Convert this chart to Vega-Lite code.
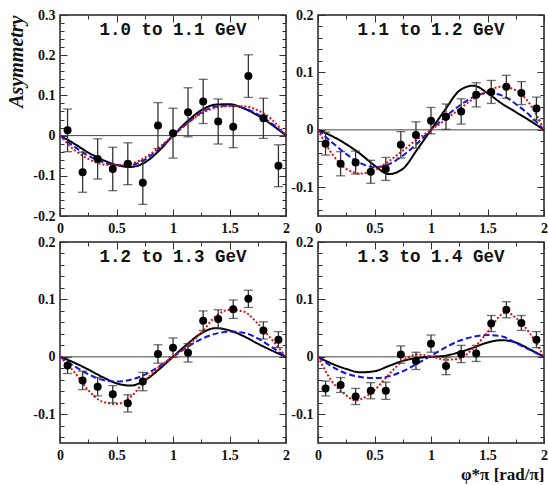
{
  "$schema": "https://vega.github.io/schema/vega-lite/v6.json",
  "padding": {"left": 5, "top": 7, "right": 0, "bottom": 2},
  "datasets": {
    "pts": [
      {"p":1,"x":0.067,"y":0.013,"e":0.053},{"p":1,"x":0.2,"y":-0.091,"e":0.05},{"p":1,"x":0.333,"y":-0.058,"e":0.05},{"p":1,"x":0.467,"y":-0.083,"e":0.054},{"p":1,"x":0.6,"y":-0.07,"e":0.052},{"p":1,"x":0.733,"y":-0.117,"e":0.054},{"p":1,"x":0.867,"y":0.025,"e":0.057},{"p":1,"x":1.0,"y":0.006,"e":0.062},{"p":1,"x":1.133,"y":0.058,"e":0.061},{"p":1,"x":1.267,"y":0.085,"e":0.055},{"p":1,"x":1.4,"y":0.035,"e":0.056},{"p":1,"x":1.533,"y":0.022,"e":0.052},{"p":1,"x":1.667,"y":0.148,"e":0.053},{"p":1,"x":1.8,"y":0.043,"e":0.05},{"p":1,"x":1.933,"y":-0.075,"e":0.052},
      {"p":2,"x":0.067,"y":-0.024,"e":0.02},{"p":2,"x":0.2,"y":-0.059,"e":0.021},{"p":2,"x":0.333,"y":-0.057,"e":0.02},{"p":2,"x":0.467,"y":-0.073,"e":0.02},{"p":2,"x":0.6,"y":-0.068,"e":0.02},{"p":2,"x":0.733,"y":-0.026,"e":0.023},{"p":2,"x":0.867,"y":-0.009,"e":0.023},{"p":2,"x":1.0,"y":0.016,"e":0.023},{"p":2,"x":1.133,"y":0.023,"e":0.022},{"p":2,"x":1.267,"y":0.032,"e":0.022},{"p":2,"x":1.4,"y":0.061,"e":0.021},{"p":2,"x":1.533,"y":0.066,"e":0.02},{"p":2,"x":1.667,"y":0.075,"e":0.02},{"p":2,"x":1.8,"y":0.064,"e":0.02},{"p":2,"x":1.933,"y":0.037,"e":0.02},
      {"p":3,"x":0.067,"y":-0.015,"e":0.014},{"p":3,"x":0.2,"y":-0.041,"e":0.016},{"p":3,"x":0.333,"y":-0.052,"e":0.016},{"p":3,"x":0.467,"y":-0.065,"e":0.015},{"p":3,"x":0.6,"y":-0.081,"e":0.015},{"p":3,"x":0.733,"y":-0.043,"e":0.016},{"p":3,"x":0.867,"y":0.005,"e":0.016},{"p":3,"x":1.0,"y":0.016,"e":0.017},{"p":3,"x":1.133,"y":0.007,"e":0.016},{"p":3,"x":1.267,"y":0.063,"e":0.017},{"p":3,"x":1.4,"y":0.066,"e":0.016},{"p":3,"x":1.533,"y":0.083,"e":0.016},{"p":3,"x":1.667,"y":0.101,"e":0.015},{"p":3,"x":1.8,"y":0.046,"e":0.015},{"p":3,"x":1.933,"y":0.03,"e":0.014},
      {"p":4,"x":0.067,"y":-0.055,"e":0.013},{"p":4,"x":0.2,"y":-0.049,"e":0.013},{"p":4,"x":0.333,"y":-0.069,"e":0.014},{"p":4,"x":0.467,"y":-0.059,"e":0.014},{"p":4,"x":0.6,"y":-0.059,"e":0.015},{"p":4,"x":0.733,"y":0.004,"e":0.015},{"p":4,"x":0.867,"y":-0.007,"e":0.015},{"p":4,"x":1.0,"y":0.023,"e":0.015},{"p":4,"x":1.133,"y":-0.016,"e":0.015},{"p":4,"x":1.267,"y":0.005,"e":0.015},{"p":4,"x":1.4,"y":0.006,"e":0.014},{"p":4,"x":1.533,"y":0.058,"e":0.014},{"p":4,"x":1.667,"y":0.082,"e":0.014},{"p":4,"x":1.8,"y":0.059,"e":0.013},{"p":4,"x":1.933,"y":0.03,"e":0.014}
    ],
    "crv": [
      {"p":1,"s":"A","x":0,"y":0},{"p":1,"s":"A","x":0.125,"y":-0.02},{"p":1,"s":"A","x":0.25,"y":-0.042},{"p":1,"s":"A","x":0.375,"y":-0.06},{"p":1,"s":"A","x":0.5,"y":-0.073},{"p":1,"s":"A","x":0.625,"y":-0.078},{"p":1,"s":"A","x":0.75,"y":-0.067},{"p":1,"s":"A","x":0.875,"y":-0.038},{"p":1,"s":"A","x":1,"y":0},{"p":1,"s":"A","x":1.125,"y":0.035},{"p":1,"s":"A","x":1.25,"y":0.063},{"p":1,"s":"A","x":1.375,"y":0.077},{"p":1,"s":"A","x":1.5,"y":0.078},{"p":1,"s":"A","x":1.625,"y":0.068},{"p":1,"s":"A","x":1.75,"y":0.05},{"p":1,"s":"A","x":1.875,"y":0.027},{"p":1,"s":"A","x":2,"y":0},
      {"p":1,"s":"B","x":0,"y":0},{"p":1,"s":"B","x":0.125,"y":-0.027},{"p":1,"s":"B","x":0.25,"y":-0.05},{"p":1,"s":"B","x":0.375,"y":-0.065},{"p":1,"s":"B","x":0.5,"y":-0.073},{"p":1,"s":"B","x":0.625,"y":-0.073},{"p":1,"s":"B","x":0.75,"y":-0.06},{"p":1,"s":"B","x":0.875,"y":-0.033},{"p":1,"s":"B","x":1,"y":0},{"p":1,"s":"B","x":1.125,"y":0.03},{"p":1,"s":"B","x":1.25,"y":0.057},{"p":1,"s":"B","x":1.375,"y":0.072},{"p":1,"s":"B","x":1.5,"y":0.075},{"p":1,"s":"B","x":1.625,"y":0.069},{"p":1,"s":"B","x":1.75,"y":0.053},{"p":1,"s":"B","x":1.875,"y":0.03},{"p":1,"s":"B","x":2,"y":0},
      {"p":1,"s":"C","x":0,"y":0},{"p":1,"s":"C","x":0.125,"y":-0.035},{"p":1,"s":"C","x":0.25,"y":-0.058},{"p":1,"s":"C","x":0.375,"y":-0.071},{"p":1,"s":"C","x":0.5,"y":-0.074},{"p":1,"s":"C","x":0.625,"y":-0.07},{"p":1,"s":"C","x":0.75,"y":-0.055},{"p":1,"s":"C","x":0.875,"y":-0.03},{"p":1,"s":"C","x":1,"y":0},{"p":1,"s":"C","x":1.125,"y":0.03},{"p":1,"s":"C","x":1.25,"y":0.055},{"p":1,"s":"C","x":1.375,"y":0.069},{"p":1,"s":"C","x":1.5,"y":0.073},{"p":1,"s":"C","x":1.625,"y":0.073},{"p":1,"s":"C","x":1.75,"y":0.063},{"p":1,"s":"C","x":1.875,"y":0.04},{"p":1,"s":"C","x":2,"y":0},
      {"p":2,"s":"A","x":0,"y":0},{"p":2,"s":"A","x":0.125,"y":-0.011},{"p":2,"s":"A","x":0.25,"y":-0.025},{"p":2,"s":"A","x":0.375,"y":-0.042},{"p":2,"s":"A","x":0.5,"y":-0.062},{"p":2,"s":"A","x":0.625,"y":-0.077},{"p":2,"s":"A","x":0.75,"y":-0.068},{"p":2,"s":"A","x":0.875,"y":-0.035},{"p":2,"s":"A","x":1,"y":0},{"p":2,"s":"A","x":1.125,"y":0.035},{"p":2,"s":"A","x":1.25,"y":0.068},{"p":2,"s":"A","x":1.375,"y":0.077},{"p":2,"s":"A","x":1.5,"y":0.064},{"p":2,"s":"A","x":1.625,"y":0.046},{"p":2,"s":"A","x":1.75,"y":0.031},{"p":2,"s":"A","x":1.875,"y":0.016},{"p":2,"s":"A","x":2,"y":0},
      {"p":2,"s":"B","x":0,"y":0},{"p":2,"s":"B","x":0.125,"y":-0.022},{"p":2,"s":"B","x":0.25,"y":-0.042},{"p":2,"s":"B","x":0.375,"y":-0.058},{"p":2,"s":"B","x":0.5,"y":-0.065},{"p":2,"s":"B","x":0.625,"y":-0.06},{"p":2,"s":"B","x":0.75,"y":-0.045},{"p":2,"s":"B","x":0.875,"y":-0.024},{"p":2,"s":"B","x":1,"y":0},{"p":2,"s":"B","x":1.125,"y":0.022},{"p":2,"s":"B","x":1.25,"y":0.042},{"p":2,"s":"B","x":1.375,"y":0.057},{"p":2,"s":"B","x":1.5,"y":0.064},{"p":2,"s":"B","x":1.625,"y":0.06},{"p":2,"s":"B","x":1.75,"y":0.045},{"p":2,"s":"B","x":1.875,"y":0.025},{"p":2,"s":"B","x":2,"y":0},
      {"p":2,"s":"C","x":0,"y":0},{"p":2,"s":"C","x":0.125,"y":-0.042},{"p":2,"s":"C","x":0.25,"y":-0.068},{"p":2,"s":"C","x":0.375,"y":-0.076},{"p":2,"s":"C","x":0.5,"y":-0.07},{"p":2,"s":"C","x":0.625,"y":-0.055},{"p":2,"s":"C","x":0.75,"y":-0.036},{"p":2,"s":"C","x":0.875,"y":-0.017},{"p":2,"s":"C","x":1,"y":0},{"p":2,"s":"C","x":1.125,"y":0.017},{"p":2,"s":"C","x":1.25,"y":0.036},{"p":2,"s":"C","x":1.375,"y":0.054},{"p":2,"s":"C","x":1.5,"y":0.068},{"p":2,"s":"C","x":1.625,"y":0.075},{"p":2,"s":"C","x":1.75,"y":0.069},{"p":2,"s":"C","x":1.875,"y":0.045},{"p":2,"s":"C","x":2,"y":0},
      {"p":3,"s":"A","x":0,"y":0},{"p":3,"s":"A","x":0.125,"y":-0.01},{"p":3,"s":"A","x":0.25,"y":-0.022},{"p":3,"s":"A","x":0.375,"y":-0.035},{"p":3,"s":"A","x":0.5,"y":-0.046},{"p":3,"s":"A","x":0.625,"y":-0.05},{"p":3,"s":"A","x":0.75,"y":-0.041},{"p":3,"s":"A","x":0.875,"y":-0.022},{"p":3,"s":"A","x":1,"y":0},{"p":3,"s":"A","x":1.125,"y":0.022},{"p":3,"s":"A","x":1.25,"y":0.041},{"p":3,"s":"A","x":1.375,"y":0.05},{"p":3,"s":"A","x":1.5,"y":0.046},{"p":3,"s":"A","x":1.625,"y":0.036},{"p":3,"s":"A","x":1.75,"y":0.023},{"p":3,"s":"A","x":1.875,"y":0.011},{"p":3,"s":"A","x":2,"y":0},
      {"p":3,"s":"B","x":0,"y":0},{"p":3,"s":"B","x":0.125,"y":-0.016},{"p":3,"s":"B","x":0.25,"y":-0.03},{"p":3,"s":"B","x":0.375,"y":-0.04},{"p":3,"s":"B","x":0.5,"y":-0.043},{"p":3,"s":"B","x":0.625,"y":-0.04},{"p":3,"s":"B","x":0.75,"y":-0.031},{"p":3,"s":"B","x":0.875,"y":-0.017},{"p":3,"s":"B","x":1,"y":0},{"p":3,"s":"B","x":1.125,"y":0.017},{"p":3,"s":"B","x":1.25,"y":0.031},{"p":3,"s":"B","x":1.375,"y":0.04},{"p":3,"s":"B","x":1.5,"y":0.044},{"p":3,"s":"B","x":1.625,"y":0.042},{"p":3,"s":"B","x":1.75,"y":0.032},{"p":3,"s":"B","x":1.875,"y":0.017},{"p":3,"s":"B","x":2,"y":0},
      {"p":3,"s":"C","x":0,"y":0},{"p":3,"s":"C","x":0.125,"y":-0.026},{"p":3,"s":"C","x":0.25,"y":-0.058},{"p":3,"s":"C","x":0.375,"y":-0.078},{"p":3,"s":"C","x":0.5,"y":-0.082},{"p":3,"s":"C","x":0.625,"y":-0.07},{"p":3,"s":"C","x":0.75,"y":-0.042},{"p":3,"s":"C","x":0.875,"y":-0.018},{"p":3,"s":"C","x":1,"y":0},{"p":3,"s":"C","x":1.125,"y":0.018},{"p":3,"s":"C","x":1.25,"y":0.042},{"p":3,"s":"C","x":1.375,"y":0.07},{"p":3,"s":"C","x":1.5,"y":0.082},{"p":3,"s":"C","x":1.625,"y":0.079},{"p":3,"s":"C","x":1.75,"y":0.058},{"p":3,"s":"C","x":1.875,"y":0.03},{"p":3,"s":"C","x":2,"y":0},
      {"p":4,"s":"A","x":0,"y":0},{"p":4,"s":"A","x":0.125,"y":-0.012},{"p":4,"s":"A","x":0.25,"y":-0.021},{"p":4,"s":"A","x":0.375,"y":-0.027},{"p":4,"s":"A","x":0.5,"y":-0.025},{"p":4,"s":"A","x":0.625,"y":-0.016},{"p":4,"s":"A","x":0.75,"y":-0.007},{"p":4,"s":"A","x":0.875,"y":-0.002},{"p":4,"s":"A","x":1,"y":0},{"p":4,"s":"A","x":1.125,"y":0.002},{"p":4,"s":"A","x":1.25,"y":0.008},{"p":4,"s":"A","x":1.375,"y":0.016},{"p":4,"s":"A","x":1.5,"y":0.025},{"p":4,"s":"A","x":1.625,"y":0.029},{"p":4,"s":"A","x":1.75,"y":0.025},{"p":4,"s":"A","x":1.875,"y":0.013},{"p":4,"s":"A","x":2,"y":0},
      {"p":4,"s":"B","x":0,"y":0},{"p":4,"s":"B","x":0.125,"y":-0.017},{"p":4,"s":"B","x":0.25,"y":-0.029},{"p":4,"s":"B","x":0.375,"y":-0.035},{"p":4,"s":"B","x":0.5,"y":-0.037},{"p":4,"s":"B","x":0.625,"y":-0.034},{"p":4,"s":"B","x":0.75,"y":-0.025},{"p":4,"s":"B","x":0.875,"y":-0.012},{"p":4,"s":"B","x":1,"y":0.002},{"p":4,"s":"B","x":1.125,"y":0.016},{"p":4,"s":"B","x":1.25,"y":0.028},{"p":4,"s":"B","x":1.375,"y":0.035},{"p":4,"s":"B","x":1.5,"y":0.038},{"p":4,"s":"B","x":1.625,"y":0.036},{"p":4,"s":"B","x":1.75,"y":0.024},{"p":4,"s":"B","x":1.875,"y":0.012},{"p":4,"s":"B","x":2,"y":0},
      {"p":4,"s":"C","x":0,"y":0},{"p":4,"s":"C","x":0.125,"y":-0.043},{"p":4,"s":"C","x":0.25,"y":-0.067},{"p":4,"s":"C","x":0.333,"y":-0.076},{"p":4,"s":"C","x":0.375,"y":-0.074},{"p":4,"s":"C","x":0.5,"y":-0.058},{"p":4,"s":"C","x":0.625,"y":-0.031},{"p":4,"s":"C","x":0.75,"y":-0.007},{"p":4,"s":"C","x":0.875,"y":0.004},{"p":4,"s":"C","x":1,"y":0.001},{"p":4,"s":"C","x":1.125,"y":-0.005},{"p":4,"s":"C","x":1.25,"y":-0.003},{"p":4,"s":"C","x":1.375,"y":0.015},{"p":4,"s":"C","x":1.5,"y":0.043},{"p":4,"s":"C","x":1.625,"y":0.074},{"p":4,"s":"C","x":1.667,"y":0.078},{"p":4,"s":"C","x":1.75,"y":0.068},{"p":4,"s":"C","x":1.875,"y":0.041},{"p":4,"s":"C","x":2,"y":0}
    ]
  },
  "columns": 2,
  "spacing": {"row": 26, "column": 32},
  "bounds": "flush",
  "concat": [
    {
      "width": 226, "height": 201,
      "title": {"text": "1.0 to 1.1 GeV"},
      "resolve": {"axis": {"x": "independent", "y": "independent"}},
      "layer": [
        {"data": {"values": [{"z": 0}]}, "mark": {"type": "rule", "color": "#444", "strokeWidth": 1},
         "encoding": {"y": {"field": "z", "type": "quantitative", "scale": {"domain": [-0.2, 0.3], "nice": false, "zero": false}, "axis": null}}},
        {"data": {"name": "crv"}, "transform": [{"filter": "datum.p == 1"}],
         "mark": {"type": "line", "interpolate": "monotone", "strokeWidth": 2},
         "encoding": {
           "x": {"field": "x", "type": "quantitative", "scale": {"domain": [0, 2], "nice": false}, "axis": {"orient": "bottom", "values": [0,0.25,0.5,0.75,1,1.25,1.5,1.75,2], "labelExpr": "(datum.value*2) % 1 == 0 ? format(datum.value, '') : ''", "tickSize": {"condition": {"test": "(datum.value*2) % 1 == 0", "value": -7}, "value": -4}, "labelPadding": 12, "title": null}},
           "y": {"field": "y", "type": "quantitative", "scale": {"domain": [-0.2, 0.3], "nice": false, "zero": false}, "axis": {"orient": "left", "values": [-0.2,-0.18,-0.16,-0.14,-0.12,-0.1,-0.08,-0.06,-0.04,-0.02,0,0.02,0.04,0.06,0.08,0.1,0.12,0.14,0.16,0.18,0.2,0.22,0.24,0.26,0.28,0.3], "labelExpr": "abs(datum.value*10 - round(datum.value*10)) < 0.001 ? replace(format(datum.value, ''), '\u2212', '-') : ''", "tickSize": {"condition": {"test": "abs(datum.value*10 - round(datum.value*10)) < 0.001", "value": -7}, "value": -4}, "labelPadding": 12, "title": "Asymmetry", "titleFontStyle": "italic", "titleFontSize": 20, "titleAngle": 270, "titleAlign": "right", "titleBaseline": "alphabetic", "titleX": -38, "titleY": 0}},
           "color": {"field": "s", "type": "nominal", "scale": {"domain": ["A", "B", "C"], "range": ["#000000", "#1414e0", "#e01010"]}, "legend": null},
           "strokeDash": {"field": "s", "type": "nominal", "scale": {"domain": ["A", "B", "C"], "range": [[1, 0], [6, 3], [2, 2]]}, "legend": null}
         }},
        {"data": {"name": "pts"}, "transform": [{"filter": "datum.p == 1"}],
         "mark": {"type": "errorbar", "ticks": {"size": 9, "color": "#333"}, "rule": {"color": "#333"}, "thickness": 1.3},
         "encoding": {"x": {"field": "x", "type": "quantitative", "axis": null}, "y": {"field": "y", "type": "quantitative", "axis": null}, "yError": {"field": "e"}}},
        {"data": {"name": "pts"}, "transform": [{"filter": "datum.p == 1"}],
         "mark": {"type": "circle", "size": 64, "color": "#000", "opacity": 1},
         "encoding": {
           "x": {"field": "x", "type": "quantitative", "axis": {"orient": "top", "values": [0,0.25,0.5,0.75,1,1.25,1.5,1.75,2], "labels": false, "tickSize": {"condition": {"test": "(datum.value*2) % 1 == 0", "value": -7}, "value": -4}, "title": null}},
           "y": {"field": "y", "type": "quantitative", "axis": {"orient": "right", "values": [-0.2,-0.18,-0.16,-0.14,-0.12,-0.1,-0.08,-0.06,-0.04,-0.02,0,0.02,0.04,0.06,0.08,0.1,0.12,0.14,0.16,0.18,0.2,0.22,0.24,0.26,0.28,0.3], "labels": false, "tickSize": {"condition": {"test": "abs(datum.value*10 - round(datum.value*10)) < 0.001", "value": -7}, "value": -4}, "title": null}}
         }}
      ]
    },
    {
      "width": 226, "height": 201,
      "title": {"text": "1.1 to 1.2 GeV"},
      "resolve": {"axis": {"x": "independent", "y": "independent"}},
      "layer": [
        {"data": {"values": [{"z": 0}]}, "mark": {"type": "rule", "color": "#444", "strokeWidth": 1},
         "encoding": {"y": {"field": "z", "type": "quantitative", "scale": {"domain": [-0.15, 0.2], "nice": false, "zero": false}, "axis": null}}},
        {"data": {"name": "crv"}, "transform": [{"filter": "datum.p == 2"}],
         "mark": {"type": "line", "interpolate": "monotone", "strokeWidth": 2},
         "encoding": {
           "x": {"field": "x", "type": "quantitative", "scale": {"domain": [0, 2], "nice": false}, "axis": {"orient": "bottom", "values": [0,0.25,0.5,0.75,1,1.25,1.5,1.75,2], "labelExpr": "(datum.value*2) % 1 == 0 ? format(datum.value, '') : ''", "tickSize": {"condition": {"test": "(datum.value*2) % 1 == 0", "value": -7}, "value": -4}, "labelPadding": 12, "title": null}},
           "y": {"field": "y", "type": "quantitative", "scale": {"domain": [-0.15, 0.2], "nice": false, "zero": false}, "axis": {"orient": "left", "values": [-0.14,-0.12,-0.1,-0.08,-0.06,-0.04,-0.02,0,0.02,0.04,0.06,0.08,0.1,0.12,0.14,0.16,0.18,0.2], "labelExpr": "abs(datum.value*10 - round(datum.value*10)) < 0.001 ? replace(format(datum.value, ''), '\u2212', '-') : ''", "tickSize": {"condition": {"test": "abs(datum.value*10 - round(datum.value*10)) < 0.001", "value": -7}, "value": -4}, "labelPadding": 12, "title": null}},
           "color": {"field": "s", "type": "nominal", "scale": {"domain": ["A", "B", "C"], "range": ["#000000", "#1414e0", "#e01010"]}, "legend": null},
           "strokeDash": {"field": "s", "type": "nominal", "scale": {"domain": ["A", "B", "C"], "range": [[1, 0], [6, 3], [2, 2]]}, "legend": null}
         }},
        {"data": {"name": "pts"}, "transform": [{"filter": "datum.p == 2"}],
         "mark": {"type": "errorbar", "ticks": {"size": 9, "color": "#333"}, "rule": {"color": "#333"}, "thickness": 1.3},
         "encoding": {"x": {"field": "x", "type": "quantitative", "axis": null}, "y": {"field": "y", "type": "quantitative", "axis": null}, "yError": {"field": "e"}}},
        {"data": {"name": "pts"}, "transform": [{"filter": "datum.p == 2"}],
         "mark": {"type": "circle", "size": 64, "color": "#000", "opacity": 1},
         "encoding": {
           "x": {"field": "x", "type": "quantitative", "axis": {"orient": "top", "values": [0,0.25,0.5,0.75,1,1.25,1.5,1.75,2], "labels": false, "tickSize": {"condition": {"test": "(datum.value*2) % 1 == 0", "value": -7}, "value": -4}, "title": null}},
           "y": {"field": "y", "type": "quantitative", "axis": {"orient": "right", "values": [-0.14,-0.12,-0.1,-0.08,-0.06,-0.04,-0.02,0,0.02,0.04,0.06,0.08,0.1,0.12,0.14,0.16,0.18,0.2], "labels": false, "tickSize": {"condition": {"test": "abs(datum.value*10 - round(datum.value*10)) < 0.001", "value": -7}, "value": -4}, "title": null}}
         }}
      ]
    },
    {
      "width": 226, "height": 201,
      "title": {"text": "1.2 to 1.3 GeV"},
      "resolve": {"axis": {"x": "independent", "y": "independent"}},
      "layer": [
        {"data": {"values": [{"z": 0}]}, "mark": {"type": "rule", "color": "#444", "strokeWidth": 1},
         "encoding": {"y": {"field": "z", "type": "quantitative", "scale": {"domain": [-0.15, 0.2], "nice": false, "zero": false}, "axis": null}}},
        {"data": {"name": "crv"}, "transform": [{"filter": "datum.p == 3"}],
         "mark": {"type": "line", "interpolate": "monotone", "strokeWidth": 2},
         "encoding": {
           "x": {"field": "x", "type": "quantitative", "scale": {"domain": [0, 2], "nice": false}, "axis": {"orient": "bottom", "values": [0,0.25,0.5,0.75,1,1.25,1.5,1.75,2], "labelExpr": "(datum.value*2) % 1 == 0 ? format(datum.value, '') : ''", "tickSize": {"condition": {"test": "(datum.value*2) % 1 == 0", "value": -7}, "value": -4}, "labelPadding": 12, "title": null}},
           "y": {"field": "y", "type": "quantitative", "scale": {"domain": [-0.15, 0.2], "nice": false, "zero": false}, "axis": {"orient": "left", "values": [-0.14,-0.12,-0.1,-0.08,-0.06,-0.04,-0.02,0,0.02,0.04,0.06,0.08,0.1,0.12,0.14,0.16,0.18,0.2], "labelExpr": "abs(datum.value*10 - round(datum.value*10)) < 0.001 ? replace(format(datum.value, ''), '\u2212', '-') : ''", "tickSize": {"condition": {"test": "abs(datum.value*10 - round(datum.value*10)) < 0.001", "value": -7}, "value": -4}, "labelPadding": 12, "title": null}},
           "color": {"field": "s", "type": "nominal", "scale": {"domain": ["A", "B", "C"], "range": ["#000000", "#1414e0", "#e01010"]}, "legend": null},
           "strokeDash": {"field": "s", "type": "nominal", "scale": {"domain": ["A", "B", "C"], "range": [[1, 0], [6, 3], [2, 2]]}, "legend": null}
         }},
        {"data": {"name": "pts"}, "transform": [{"filter": "datum.p == 3"}],
         "mark": {"type": "errorbar", "ticks": {"size": 9, "color": "#333"}, "rule": {"color": "#333"}, "thickness": 1.3},
         "encoding": {"x": {"field": "x", "type": "quantitative", "axis": null}, "y": {"field": "y", "type": "quantitative", "axis": null}, "yError": {"field": "e"}}},
        {"data": {"name": "pts"}, "transform": [{"filter": "datum.p == 3"}],
         "mark": {"type": "circle", "size": 64, "color": "#000", "opacity": 1},
         "encoding": {
           "x": {"field": "x", "type": "quantitative", "axis": {"orient": "top", "values": [0,0.25,0.5,0.75,1,1.25,1.5,1.75,2], "labels": false, "tickSize": {"condition": {"test": "(datum.value*2) % 1 == 0", "value": -7}, "value": -4}, "title": null}},
           "y": {"field": "y", "type": "quantitative", "axis": {"orient": "right", "values": [-0.14,-0.12,-0.1,-0.08,-0.06,-0.04,-0.02,0,0.02,0.04,0.06,0.08,0.1,0.12,0.14,0.16,0.18,0.2], "labels": false, "tickSize": {"condition": {"test": "abs(datum.value*10 - round(datum.value*10)) < 0.001", "value": -7}, "value": -4}, "title": null}}
         }}
      ]
    },
    {
      "width": 226, "height": 201,
      "title": {"text": "1.3 to 1.4 GeV"},
      "resolve": {"axis": {"x": "independent", "y": "independent"}},
      "layer": [
        {"data": {"values": [{"z": 0}]}, "mark": {"type": "rule", "color": "#444", "strokeWidth": 1},
         "encoding": {"y": {"field": "z", "type": "quantitative", "scale": {"domain": [-0.15, 0.2], "nice": false, "zero": false}, "axis": null}}},
        {"data": {"name": "crv"}, "transform": [{"filter": "datum.p == 4"}],
         "mark": {"type": "line", "interpolate": "monotone", "strokeWidth": 2},
         "encoding": {
           "x": {"field": "x", "type": "quantitative", "scale": {"domain": [0, 2], "nice": false}, "axis": {"orient": "bottom", "values": [0,0.25,0.5,0.75,1,1.25,1.5,1.75,2], "labelExpr": "(datum.value*2) % 1 == 0 ? format(datum.value, '') : ''", "tickSize": {"condition": {"test": "(datum.value*2) % 1 == 0", "value": -7}, "value": -4}, "labelPadding": 12, "title": "φ*π [rad/π]", "titleFontSize": 17, "titleAlign": "right", "titleBaseline": "alphabetic", "titleX": 226, "titleY": 36}},
           "y": {"field": "y", "type": "quantitative", "scale": {"domain": [-0.15, 0.2], "nice": false, "zero": false}, "axis": {"orient": "left", "values": [-0.14,-0.12,-0.1,-0.08,-0.06,-0.04,-0.02,0,0.02,0.04,0.06,0.08,0.1,0.12,0.14,0.16,0.18,0.2], "labelExpr": "abs(datum.value*10 - round(datum.value*10)) < 0.001 ? replace(format(datum.value, ''), '\u2212', '-') : ''", "tickSize": {"condition": {"test": "abs(datum.value*10 - round(datum.value*10)) < 0.001", "value": -7}, "value": -4}, "labelPadding": 12, "title": null}},
           "color": {"field": "s", "type": "nominal", "scale": {"domain": ["A", "B", "C"], "range": ["#000000", "#1414e0", "#e01010"]}, "legend": null},
           "strokeDash": {"field": "s", "type": "nominal", "scale": {"domain": ["A", "B", "C"], "range": [[1, 0], [6, 3], [2, 2]]}, "legend": null}
         }},
        {"data": {"name": "pts"}, "transform": [{"filter": "datum.p == 4"}],
         "mark": {"type": "errorbar", "ticks": {"size": 9, "color": "#333"}, "rule": {"color": "#333"}, "thickness": 1.3},
         "encoding": {"x": {"field": "x", "type": "quantitative", "axis": null}, "y": {"field": "y", "type": "quantitative", "axis": null}, "yError": {"field": "e"}}},
        {"data": {"name": "pts"}, "transform": [{"filter": "datum.p == 4"}],
         "mark": {"type": "circle", "size": 64, "color": "#000", "opacity": 1},
         "encoding": {
           "x": {"field": "x", "type": "quantitative", "axis": {"orient": "top", "values": [0,0.25,0.5,0.75,1,1.25,1.5,1.75,2], "labels": false, "tickSize": {"condition": {"test": "(datum.value*2) % 1 == 0", "value": -7}, "value": -4}, "title": null}},
           "y": {"field": "y", "type": "quantitative", "axis": {"orient": "right", "values": [-0.14,-0.12,-0.1,-0.08,-0.06,-0.04,-0.02,0,0.02,0.04,0.06,0.08,0.1,0.12,0.14,0.16,0.18,0.2], "labels": false, "tickSize": {"condition": {"test": "abs(datum.value*10 - round(datum.value*10)) < 0.001", "value": -7}, "value": -4}, "title": null}}
         }}
      ]
    }
  ],
  "config": {
    "view": {"stroke": "#222", "strokeWidth": 1.5},
    "axis": {"labelFont": "Liberation Serif", "labelFontSize": 14, "labelFontWeight": "bold", "labelColor": "#111", "tickColor": "#333", "tickWidth": 1, "domain": false, "grid": false, "titleFont": "Liberation Serif", "titleFontWeight": "bold", "titleColor": "#111", "labelFlush": false, "labelOverlap": false},
    "title": {"font": "Liberation Mono", "fontSize": 17.5, "fontWeight": "bold", "color": "#111", "anchor": "middle", "frame": "group", "offset": -30, "baseline": "alphabetic"}
  }
}
